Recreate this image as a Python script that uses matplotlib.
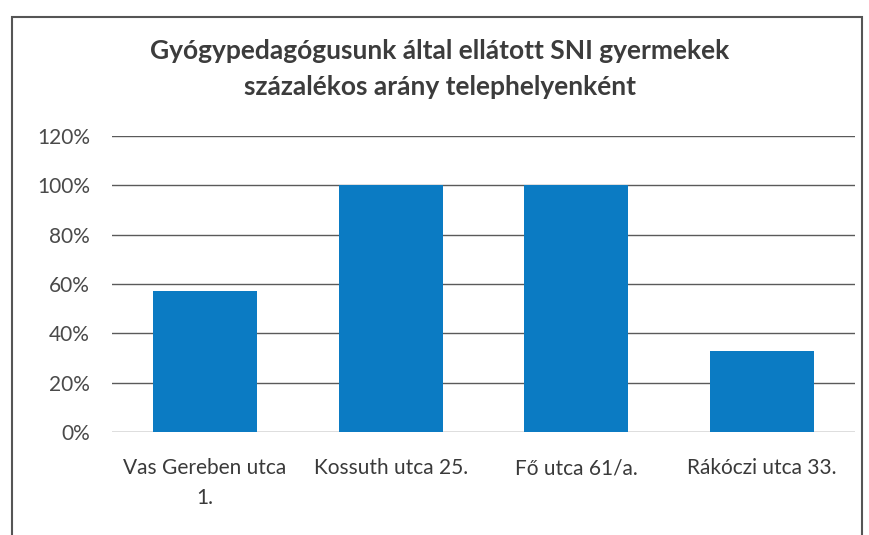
import matplotlib
matplotlib.use("Agg")
import matplotlib.pyplot as plt
from matplotlib.patches import Rectangle
from matplotlib.ticker import FuncFormatter

categories = ["Vas Gereben utca\n1.", "Kossuth utca 25.", "Fő utca 61/a.", "Rákóczi utca 33."]
values = [0.57, 1.00, 1.00, 0.33]
yticks = [0, 0.2, 0.4, 0.6, 0.8, 1.0, 1.2]

plt.rcParams['font.family'] = ['Lato', 'DejaVu Sans']

fig = plt.figure(figsize=(8.7, 5.35), dpi=100)
fig.patch.set_facecolor("white")
W, H = 870, 535
ax = fig.add_axes([112 / W, 1 - 432 / H, (855 - 112) / W, (432 - 136) / H])

x = list(range(len(categories)))
ax.bar(x, values, width=0.56, color="#0b7bc3", zorder=3)
ax.set_xlim(-0.5, len(categories) - 0.5)
ax.set_ylim(0, 1.2)
ax.set_yticks(yticks)
ax.yaxis.set_major_formatter(FuncFormatter(lambda v, p: f"{v*100:.0f}%"))
ax.grid(axis="y", color="#5a5a5a", linewidth=1.0, zorder=0)
ax.set_xticks(x)
ax.set_xticklabels(categories, fontsize=15, color="#3a3a3a", linespacing=1.6)
ax.tick_params(axis="y", labelsize=15, labelcolor="#4a4a4a", length=0, pad=16)
ax.tick_params(axis="x", length=0, pad=19)
for s in ax.spines.values():
    s.set_visible(False)

fig.text(440 / W, 1 - 69 / H,
         "Gyógypedagógusunk által ellátott SNI gyermekek\nszázalékos arány telephelyenként",
         ha="center", va="center", fontsize=19, fontweight="bold", color="#3c3c3c",
         linespacing=1.6)

fig.patches.append(Rectangle((12 / W, -0.05), (862 - 12) / W, 1.05 - 17 / H + 0.0,
                             transform=fig.transFigure, fill=False,
                             edgecolor="#555555", linewidth=1.5))

fig.savefig("out.png", dpi=100)
